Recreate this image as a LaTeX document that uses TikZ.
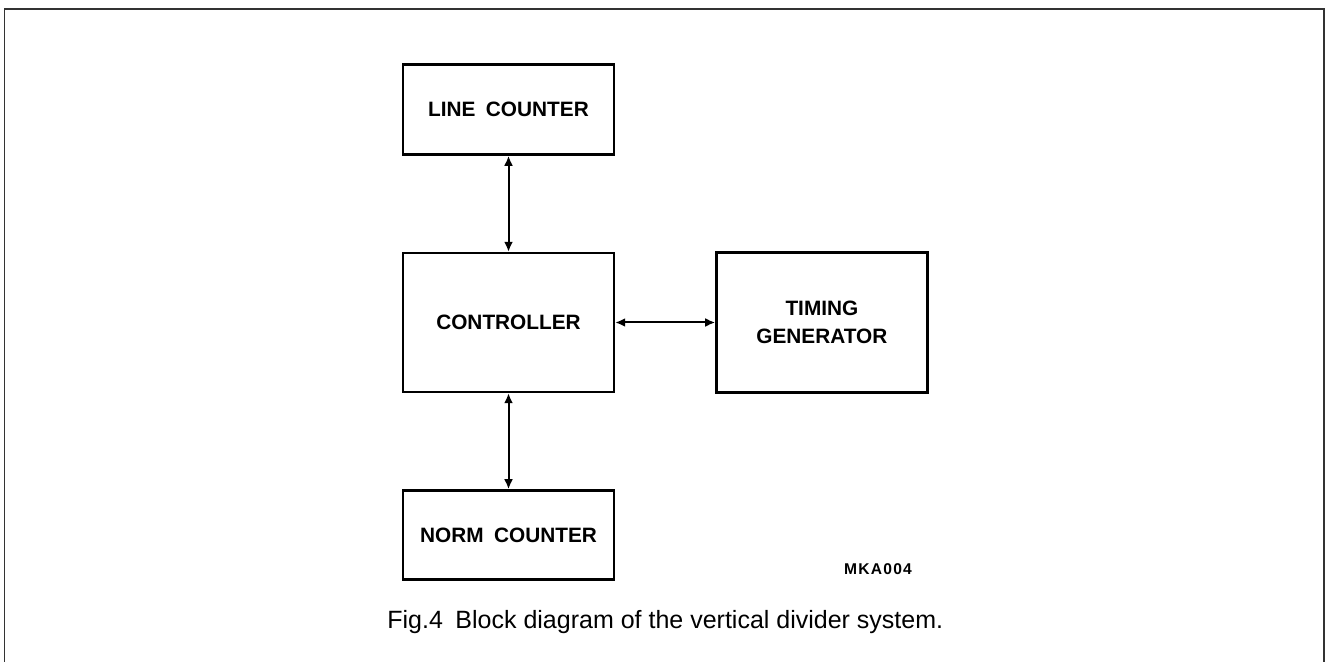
\documentclass[tikz,border=0pt]{standalone}
\usepackage{fontspec}
\setmainfont{Liberation Sans}
\usetikzlibrary{positioning,arrows.meta}

\begin{document}
\begin{tikzpicture}[
  x=0.5pt, y=-0.5pt,
  node distance=48pt and 50pt,
  block/.style={rectangle, draw, line width=1.2pt, minimum width=105.5pt, inner sep=0pt,
    align=center, font=\fontsize{10.4}{14}\selectfont\bfseries},
  link/.style={line width=1pt, {Latex[length=5pt,width=4.5pt]}-{Latex[length=5pt,width=4.5pt]}}
]
  \useasboundingbox (0,0) rectangle (1326,662);
  \draw[line width=0.6pt, black!80] (4.5,662) |- (1324,9) -- (1324,662);

  \node (ctrl) [block, minimum height=69.5pt] at (508.5,322.5) {CONTROLLER};
  \node (linecnt) [block, minimum height=45pt, above=of ctrl] {LINE\enspace COUNTER};
  \node (normcnt) [block, minimum height=44.5pt, below=of ctrl] {NORM\enspace COUNTER};
  \node (timing) [block, minimum height=70pt, right=of ctrl] {TIMING\\GENERATOR};

  \draw[link] (linecnt) -- (ctrl);
  \draw[link] (ctrl) -- (normcnt);
  \draw[link] (ctrl) -- (timing);

  \node (code) [font=\fontsize{7.8}{9}\selectfont\bfseries\addfontfeatures{LetterSpace=8}] at (878,569) {MKA004};
  \node (caption) [anchor=base west, inner sep=0pt, font=\fontsize{12.5}{15}\selectfont] at (387,628)
    {Fig.4\enspace Block diagram of the vertical divider system.};
\end{tikzpicture}
\end{document}
